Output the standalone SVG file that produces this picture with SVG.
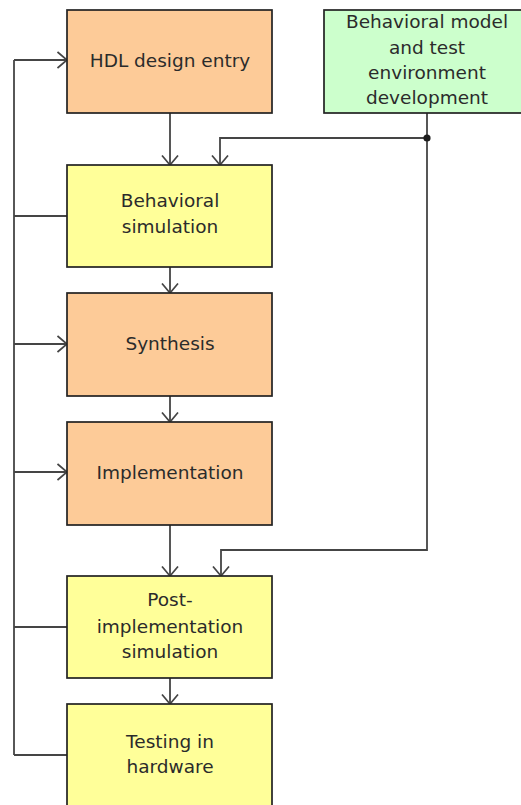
<svg xmlns="http://www.w3.org/2000/svg" width="521" height="805" viewBox="0 0 521 805">
  <style>
    .box { stroke: #222222; stroke-width: 1.7; }
    .hdl { fill: #FDCB98; }
    .sim { fill: #FFFF99; }
    .env { fill: #CCFFCC; }
    .lbl { font-family: "DejaVu Sans", Verdana, sans-serif; font-size: 18.5px; fill: #2b2b2b; text-anchor: middle; }
    .wire { fill: none; stroke: #454545; stroke-width: 1.8; }
    .arr { marker-end: url(#chev); }
  </style>
  <defs>
    <!-- open chevron arrowhead used by every directed connector -->
    <marker id="chev" viewBox="-10 -9 11 18" refX="0" refY="0" markerWidth="11" markerHeight="18" markerUnits="userSpaceOnUse" orient="auto">
      <path d="M-9.5,-8 L0,0 L-9.5,8" fill="none" stroke="#454545" stroke-width="1.7"/>
    </marker>
  </defs>

  <!-- connectors -->
  <g id="connectors">
    <!-- main flow -->
    <path class="wire arr" d="M170,113 V165"/>
    <path class="wire arr" d="M170,267 V293"/>
    <path class="wire arr" d="M170,396 V422"/>
    <path class="wire arr" d="M170,525 V576"/>
    <path class="wire arr" d="M170,678 V704"/>
    <!-- test environment feeds -->
    <path class="wire arr" d="M427,113 V138 H220 V165"/>
    <path class="wire arr" d="M427,138 V550 H221 V576"/>
    <circle cx="427" cy="138" r="3.6" fill="#1e1e1e"/>
    <!-- feedback bus -->
    <path class="wire" d="M14,60 V755"/>
    <path class="wire arr" d="M14,60 H67"/>
    <path class="wire" d="M67,216 H14"/>
    <path class="wire arr" d="M14,344 H67"/>
    <path class="wire arr" d="M14,472 H67"/>
    <path class="wire" d="M67,627 H14"/>
    <path class="wire" d="M67,755 H14"/>
  </g>

  <g id="hdl-entry">
    <rect class="box hdl" x="67" y="10" width="205" height="103"/>
    <text class="lbl" x="170" y="67">HDL design entry</text>
  </g>

  <g id="test-env">
    <rect class="box env" x="324" y="10" width="206" height="103"/>
    <text class="lbl" x="427" y="28">Behavioral model</text>
    <text class="lbl" x="427" y="54">and test</text>
    <text class="lbl" x="427" y="79">environment</text>
    <text class="lbl" x="427" y="104">development</text>
  </g>

  <g id="behavioral-sim">
    <rect class="box sim" x="67" y="165" width="205" height="102"/>
    <text class="lbl" x="170" y="207">Behavioral</text>
    <text class="lbl" x="170" y="233">simulation</text>
  </g>

  <g id="synthesis">
    <rect class="box hdl" x="67" y="293" width="205" height="103"/>
    <text class="lbl" x="170" y="350">Synthesis</text>
  </g>

  <g id="implementation">
    <rect class="box hdl" x="67" y="422" width="205" height="103"/>
    <text class="lbl" x="170" y="479">Implementation</text>
  </g>

  <g id="post-impl-sim">
    <rect class="box sim" x="67" y="576" width="205" height="102"/>
    <text class="lbl" x="170" y="606">Post-</text>
    <text class="lbl" x="170" y="633">implementation</text>
    <text class="lbl" x="170" y="658">simulation</text>
  </g>

  <g id="hw-test">
    <rect class="box sim" x="67" y="704" width="205" height="110"/>
    <text class="lbl" x="170" y="748">Testing in</text>
    <text class="lbl" x="170" y="773">hardware</text>
  </g>
</svg>
